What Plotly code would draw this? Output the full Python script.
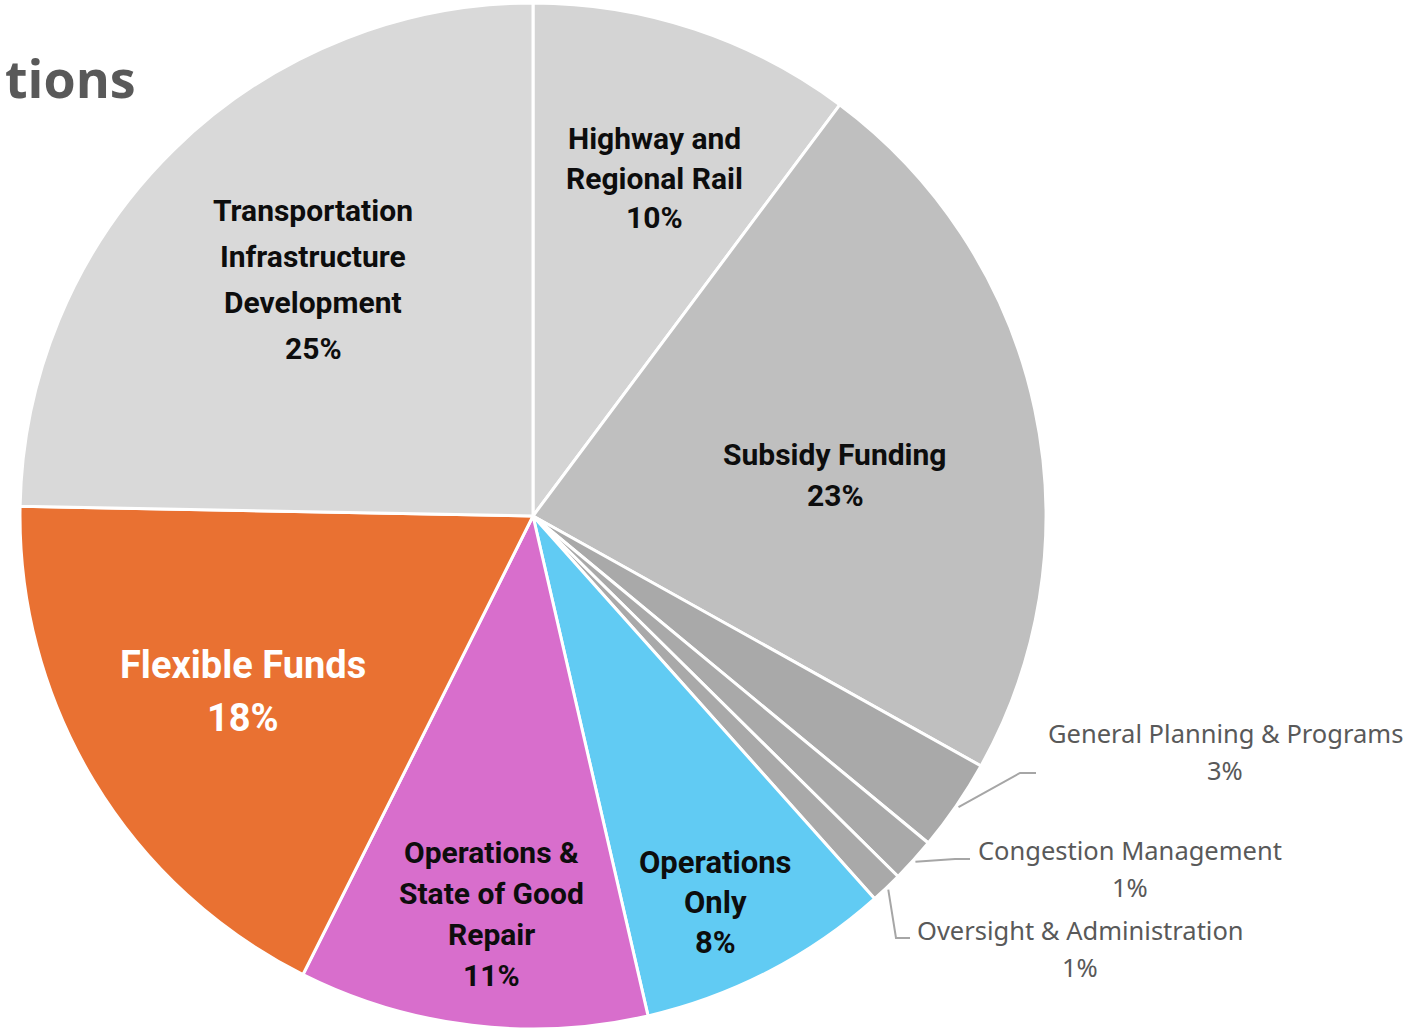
import math
import plotly.graph_objects as go

# ---------------- data ----------------
categories = [
    "Highway and Regional Rail",
    "Subsidy Funding",
    "General Planning & Programs",
    "Congestion Management",
    "Oversight & Administration",
    "Operations Only",
    "Operations & State of Good Repair",
    "Flexible Funds",
    "Transportation Infrastructure Development",
]
shares = [10.2, 22.9, 2.9, 1.4, 1.0, 8.0, 11.0, 17.9, 24.7]
label_lines = [
    ["Highway and", "Regional Rail"],
    ["Subsidy Funding"],
    ["General Planning & Programs"],
    ["Congestion Management"],
    ["Oversight & Administration"],
    ["Operations", "Only"],
    ["Operations &", "State of Good", "Repair"],
    ["Flexible Funds"],
    ["Transportation", "Infrastructure", "Development"],
]
title_text = "tions"

# ---------------- style ----------------
colors = ["#D4D4D4", "#BFBFBF", "#A9A9A9", "#A9A9A9", "#A9A9A9",
          "#61CBF3", "#D86ECC", "#E97132", "#D9D9D9"]
W, H = 1424, 1029
MT = 3
Hp = H - MT
R = Hp / 2.0
CX, CY = 533.0, MT + R
dom_x = [(CX - R) / W, (CX + R) / W]

INNER_FONT = "Roboto, sans-serif"
OUTER_FONT = "Noto Sans, Roboto, sans-serif"

def to_paper(px, py):
    return px / W, 1 - (py - MT) / Hp

total = sum(shares)
pcts = [round(v / total * 100) for v in shares]
mids = []
acc = 0.0
for v in shares:
    mids.append((acc + v / 2) / total * 2 * math.pi)
    acc += v

def slice_point(i, frac, ddeg=0.0):
    th = mids[i] + math.radians(ddeg)
    return CX + frac * R * math.sin(th), CY - frac * R * math.cos(th)

fig = go.Figure(go.Pie(
    labels=categories,
    values=shares,
    sort=False,
    direction="clockwise",
    rotation=0,
    textinfo="none",
    hoverinfo="label+percent",
    marker=dict(colors=colors, line=dict(color="white", width=3)),
    domain=dict(x=dom_x, y=[0, 1]),
    showlegend=False,
))

annotations = []

def add_block(lines, cx, cy, spacing, size, col, family, bold):
    n = len(lines)
    for k, line in enumerate(lines):
        py = cy + (k - (n - 1) / 2.0) * spacing
        x, y = to_paper(cx, py)
        txt = f"<b>{line}</b>" if bold else line
        annotations.append(dict(
            x=x, y=y, xref="paper", yref="paper", xanchor="center", yanchor="middle",
            text=txt, showarrow=False, align="center",
            font=dict(family=family, size=size, color=col),
        ))

# inside labels: (index, radial fraction, angle nudge, font size, line spacing, colour)
inside = [
    (0, 0.70, 1.5, 30, 39.5, "#0D0D0D"),
    (1, 0.594, 4.4, 30, 41, "#0D0D0D"),
    (5, 0.832, 2.1, 31, 40, "#0D0D0D"),
    (6, 0.78, -0.9, 30, 40.7, "#0D0D0D"),
    (7, 0.66, 0.0, 38, 53, "#FFFFFF"),
    (8, 0.63, 1.6, 30, 46, "#0D0D0D"),
]
for i, frac, dd, size, sp, col in inside:
    px, py = slice_point(i, frac, dd)
    add_block(label_lines[i] + [f"{pcts[i]}%"], px, py, sp, size, col, INNER_FONT, True)

# outside labels with leader lines: (index, label centre px, elbow px, end px)
outside = [
    (2, (1225, 751), (1020, 773), (1036, 773)),
    (3, (1130, 868), (955, 859), (970, 859)),
    (4, (1080, 948), (896, 938), (910, 938)),
]
shapes = []
for i, (lx, ly), (ex, ey), (fx, fy) in outside:
    add_block(label_lines[i] + [f"{pcts[i]}%"], lx, ly, 37, 25.5, "#595959", OUTER_FONT, False)
    sx, sy = slice_point(i, 1.005)
    pts = [to_paper(sx, sy), to_paper(ex, ey), to_paper(fx, fy)]
    path = "M {} {} L {} {} L {} {}".format(pts[0][0], pts[0][1], pts[1][0], pts[1][1],
                                           pts[2][0], pts[2][1])
    shapes.append(dict(type="path", xref="paper", yref="paper", path=path,
                       line=dict(color="#A6A6A6", width=2)))

tx, ty = to_paper(3, 77)
annotations.append(dict(
    x=tx, y=ty, xref="paper", yref="paper", xanchor="left", yanchor="middle",
    text=f"<b>{title_text}</b>", showarrow=False,
    font=dict(family="Open Sans, sans-serif", size=52, color="#595959"),
))

fig.update_layout(
    width=W, height=H,
    margin=dict(l=0, r=0, t=MT, b=0),
    paper_bgcolor="white", plot_bgcolor="white",
    annotations=annotations, shapes=shapes,
)
fig.write_html("out.html", config={"displayModeBar": False},
               post_script="document.body.style.margin='0';")
